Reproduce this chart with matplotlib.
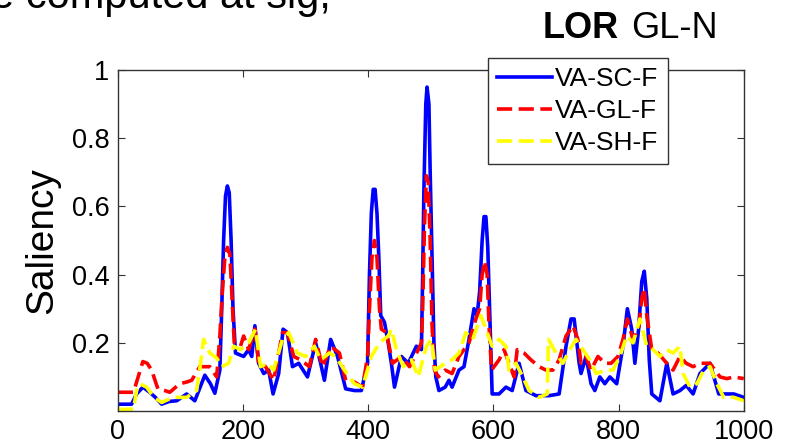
import matplotlib.pyplot as plt

plt.rcParams['font.family'] = ['Liberation Sans', 'DejaVu Sans']

# series (frame index vs saliency)
x_sc = [0, 22, 30, 40, 51, 60, 70, 82, 94, 110, 123, 139, 148, 155, 163, 166, 169, 172, 175, 178,
        181, 184, 188, 201, 209, 214, 219, 225, 233, 241, 248, 257, 264, 271, 279, 289, 296, 303,
        316, 324, 330, 340, 351, 364, 378, 389, 399, 402, 405, 408, 411, 414, 417, 420, 426, 432,
        437, 442, 453, 464, 477, 485, 487, 489, 492, 494, 497, 499, 502, 505, 508, 513, 523, 529,
        534, 545, 553, 561, 569, 574, 578, 582, 585, 588, 591, 594, 598, 609, 620, 630, 641, 652,
        668, 689, 705, 716, 724, 729, 737, 740, 748, 756, 762, 770, 778, 786, 797, 807, 814, 821,
        826, 832, 837, 841, 845, 849, 853, 866, 877, 887, 898, 908, 919, 930, 946, 960, 973, 984,
        1000]
va_sc = [0.02, 0.02, 0.05, 0.07, 0.055, 0.04, 0.02, 0.028, 0.03, 0.05, 0.03, 0.105, 0.08, 0.052,
         0.12, 0.3, 0.5, 0.63, 0.66, 0.64, 0.5, 0.3, 0.17, 0.16, 0.18, 0.16, 0.25, 0.14, 0.11,
         0.12, 0.05, 0.11, 0.24, 0.23, 0.13, 0.14, 0.12, 0.10, 0.20, 0.14, 0.09, 0.21, 0.16,
         0.065, 0.06, 0.06, 0.14, 0.4, 0.58, 0.65, 0.65, 0.58, 0.45, 0.28, 0.26, 0.2, 0.14, 0.07,
         0.16, 0.14, 0.19, 0.18, 0.4, 0.65, 0.9, 0.95, 0.9, 0.7, 0.45, 0.2, 0.1, 0.06, 0.07, 0.09,
         0.07, 0.12, 0.13, 0.21, 0.30, 0.28, 0.35, 0.5, 0.57, 0.57, 0.48, 0.3, 0.05, 0.05, 0.07,
         0.06, 0.14, 0.06, 0.045, 0.045, 0.05, 0.19, 0.27, 0.27, 0.14, 0.11, 0.16, 0.08, 0.06,
         0.10, 0.08, 0.10, 0.08, 0.19, 0.30, 0.24, 0.14, 0.24, 0.38, 0.41, 0.33, 0.15, 0.05, 0.03,
         0.14, 0.05, 0.06, 0.075, 0.05, 0.11, 0.14, 0.05, 0.05, 0.05, 0.04]

x_gl = [0, 25, 30, 40, 47, 54, 64, 75, 83, 99, 110, 118, 131, 140, 147, 158, 163, 167, 171, 175,
        179, 182, 186, 196, 201, 209, 219, 225, 236, 249, 263, 271, 281, 292, 306, 316, 327, 340,
        354, 364, 378, 391, 399, 402, 406, 410, 414, 418, 421, 429, 439, 453, 466, 480, 485, 487,
        490, 493, 496, 499, 502, 506, 512, 523, 534, 545, 561, 572, 578, 582, 586, 590, 593, 597,
        609, 617, 625, 633, 638, 649, 660, 673, 684, 695, 705, 716, 727, 735, 740, 748, 756, 767,
        778, 788, 799, 807, 814, 823, 832, 837, 841, 845, 853, 863, 877, 887, 898, 908, 919, 930,
        946, 962, 973, 984, 1000]
va_gl = [0.055, 0.055, 0.085, 0.145, 0.14, 0.12, 0.065, 0.06, 0.055, 0.08, 0.085, 0.09, 0.13,
         0.13, 0.13, 0.10, 0.22, 0.35, 0.45, 0.48, 0.46, 0.35, 0.2, 0.19, 0.22, 0.18, 0.24, 0.14,
         0.13, 0.09, 0.23, 0.23, 0.16, 0.15, 0.13, 0.21, 0.13, 0.19, 0.17, 0.09, 0.085, 0.07,
         0.16, 0.3, 0.45, 0.5, 0.45, 0.3, 0.24, 0.23, 0.14, 0.16, 0.13, 0.18, 0.2, 0.3, 0.55,
         0.69, 0.67, 0.5, 0.25, 0.12, 0.10, 0.12, 0.11, 0.16, 0.20, 0.27, 0.3, 0.4, 0.44, 0.4,
         0.25, 0.12, 0.15, 0.18, 0.14, 0.10, 0.18, 0.17, 0.15, 0.13, 0.12, 0.12, 0.15, 0.22, 0.25,
         0.21, 0.14, 0.16, 0.12, 0.16, 0.14, 0.14, 0.16, 0.21, 0.27, 0.21, 0.24, 0.33, 0.36, 0.28,
         0.18, 0.17, 0.14, 0.12, 0.16, 0.14, 0.13, 0.14, 0.14, 0.10, 0.095, 0.10, 0.095]

x_sh = [0, 25, 30, 35, 46, 58, 70, 88, 110, 126, 133, 137, 147, 158, 166, 177, 185, 196, 209, 220,
        228, 239, 249, 263, 273, 287, 300, 314, 324, 338, 348, 362, 378, 391, 405, 410, 418, 432,
        437, 445, 456, 469, 480, 493, 501, 507, 523, 534, 545, 556, 567, 580, 588, 598, 609, 620,
        625, 636, 647, 657, 673, 686, 688, 700, 711, 722, 732, 743, 754, 764, 780, 791, 802, 813,
        823, 834, 845, 855, 866, 877, 887, 898, 903, 914, 925, 936, 946, 957, 968, 984, 1000]
va_sh = [0.005, 0.005, 0.06, 0.08, 0.07, 0.04, 0.025, 0.04, 0.04, 0.06, 0.15, 0.21, 0.17, 0.155,
         0.13, 0.14, 0.19, 0.18, 0.20, 0.24, 0.13, 0.14, 0.12, 0.21, 0.23, 0.17, 0.16, 0.19, 0.15,
         0.17, 0.16, 0.12, 0.08, 0.07, 0.16, 0.175, 0.20, 0.22, 0.24, 0.18, 0.13, 0.15, 0.10,
         0.19, 0.21, 0.12, 0.14, 0.15, 0.17, 0.23, 0.21, 0.28, 0.24, 0.19, 0.21, 0.19, 0.12,
         0.14, 0.10, 0.06, 0.04, 0.05, 0.21, 0.17, 0.14, 0.18, 0.21, 0.18, 0.15, 0.11, 0.12,
         0.12, 0.16, 0.22, 0.20, 0.27, 0.19, 0.18, 0.16, 0.18, 0.17, 0.19, 0.11, 0.07, 0.08,
         0.12, 0.13, 0.08, 0.04, 0.04, 0.03]

xticks = [0, 200, 400, 600, 800, 1000]
yticks = [0.2, 0.4, 0.6, 0.8, 1.0]
ytick_labels = ['0.2', '0.4', '0.6', '0.8', '1']

fig = plt.figure(figsize=(7.87, 4.44), dpi=100)
ax = fig.add_axes([0.1497, 0.0743, 0.7954, 0.7680])

ax.plot(x_sc, va_sc, color='#0000ff', lw=2.6, label='VA-SC-F')
ax.plot(x_gl, va_gl, color='#ff0000', lw=2.6, dashes=(4.2, 1.8), label='VA-GL-F')
ax.plot(x_sh, va_sh, color='#ffff00', lw=2.6, dashes=(4.2, 1.8), label='VA-SH-F')

ax.set_xlim(0, 1000)
ax.set_ylim(0, 1)
ax.set_xticks(xticks)
ax.set_yticks(yticks)
ax.set_yticklabels(ytick_labels)
ax.tick_params(direction='in', top=True, right=True, labelsize=19.5, length=5,
               color='#333333', pad=6)
for s in ax.spines.values():
    s.set_color('#333333')
    s.set_linewidth(1.0)

ax.set_ylabel('Saliency', fontsize=28, labelpad=8)

leg = ax.legend(loc='upper left', bbox_to_anchor=(0.591, 1.035), fontsize=19,
                frameon=True, fancybox=False, handlelength=2.1, handletextpad=0.1,
                labelspacing=0.3, borderpad=0.35, borderaxespad=0)
leg.get_frame().set_edgecolor('#333333')
leg.get_frame().set_linewidth(1.0)
leg.get_frame().set_alpha(1)

# slide text around the chart (cut off at the top, as in the slide crop)
fig.text(-0.012, 1 - 8 / 444, 'e computed at sig,', fontsize=30, va='baseline', ha='left')
fig.text(619 / 787, 1 - 38 / 444, 'LOR', fontsize=26, fontweight='bold', va='baseline', ha='right')
fig.text(631 / 787, 1 - 38 / 444, 'GL-N', fontsize=26, va='baseline', ha='left')

fig.savefig('out.png', dpi=100)
